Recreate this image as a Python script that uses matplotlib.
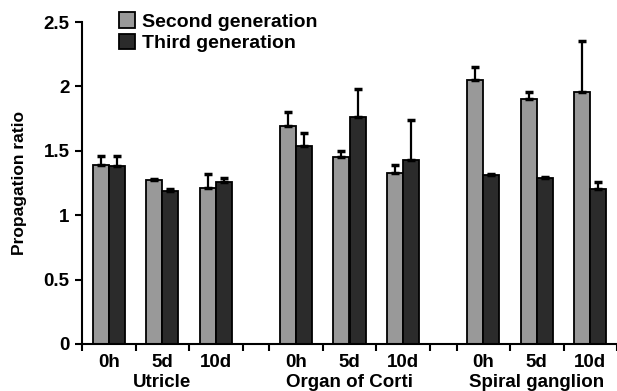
import numpy as np
import matplotlib.pyplot as plt
from matplotlib.patches import Patch

plt.rcParams.update({
    "font.family": "Liberation Sans",
    "font.weight": "bold",
    "axes.labelweight": "bold",
    "font.size": 13.5,
})

groups = ["Utricle", "Organ of Corti", "Spiral ganglion"]
times = ["0h", "5d", "10d"]
second = [1.39, 1.27, 1.21, 1.69, 1.45, 1.33, 2.05, 1.90, 1.96]
second_err = [0.07, 0.01, 0.11, 0.11, 0.05, 0.06, 0.10, 0.06, 0.39]
third = [1.38, 1.19, 1.26, 1.54, 1.76, 1.43, 1.31, 1.29, 1.20]
third_err = [0.08, 0.01, 0.03, 0.10, 0.22, 0.31, 0.01, 0.01, 0.06]

# slot layout: 3 groups of 3 slots, half-slot gap between groups
slot_start = np.array([0, 1, 2, 3.5, 4.5, 5.5, 7, 8, 9], dtype=float)
centers = slot_start + 0.5
bw = 0.3

fig = plt.figure(figsize=(6.17, 3.91), dpi=100)
ax = fig.add_axes([82/617, 47/391, 535/617, 322/391])

ax.bar(centers - bw/2, second, bw, color="#999999", edgecolor="black", linewidth=1.3,
       yerr=[np.zeros(9), second_err], error_kw=dict(ecolor="black", elinewidth=1.6, capsize=3, capthick=2.5))
ax.bar(centers + bw/2, third, bw, color="#2b2b2b", edgecolor="black", linewidth=1.3,
       yerr=[np.zeros(9), third_err], error_kw=dict(ecolor="black", elinewidth=1.6, capsize=3, capthick=2.5))

ax.set_xlim(0, 10)
ax.set_ylim(0, 2.5)
ax.set_yticks([0, 0.5, 1, 1.5, 2, 2.5])
ax.set_yticklabels(["0", "0.5", "1", "1.5", "2", "2.5"])
ax.set_xticks([0, 1, 2, 3, 3.5, 4.5, 5.5, 6.5, 7, 8, 9, 10])
ax.set_xticklabels([])
ax.tick_params(axis="both", width=1.5, length=5, direction="out")
ax.tick_params(axis="y", pad=4)
for s in ["top", "right"]:
    ax.spines[s].set_visible(False)
ax.spines["left"].set_linewidth(1.5)
ax.spines["bottom"].set_linewidth(1.5)

for c, t in zip(centers, times * 3):
    ax.text(c, -0.08, t, ha="center", va="top", fontsize=13.5)
for g, c in zip(groups, centers[1::3]):
    ax.text(c, -0.235, g, ha="center", va="top", fontsize=13.5)

ax.set_ylabel("Propagation ratio", fontsize=12.5, labelpad=12)

handles = [Patch(facecolor="#999999", edgecolor="black", linewidth=1.3),
           Patch(facecolor="#2b2b2b", edgecolor="black", linewidth=1.3)]
fig.legend(handles, ["Second generation", "Third generation"], loc="upper left",
           bbox_to_anchor=(115/617, 0.978), frameon=False, fontsize=14,
           handlelength=0.85, handleheight=0.85, handletextpad=0.35, labelspacing=0.15,
           borderaxespad=0, borderpad=0.2)

fig.savefig("out.png", dpi=100)
